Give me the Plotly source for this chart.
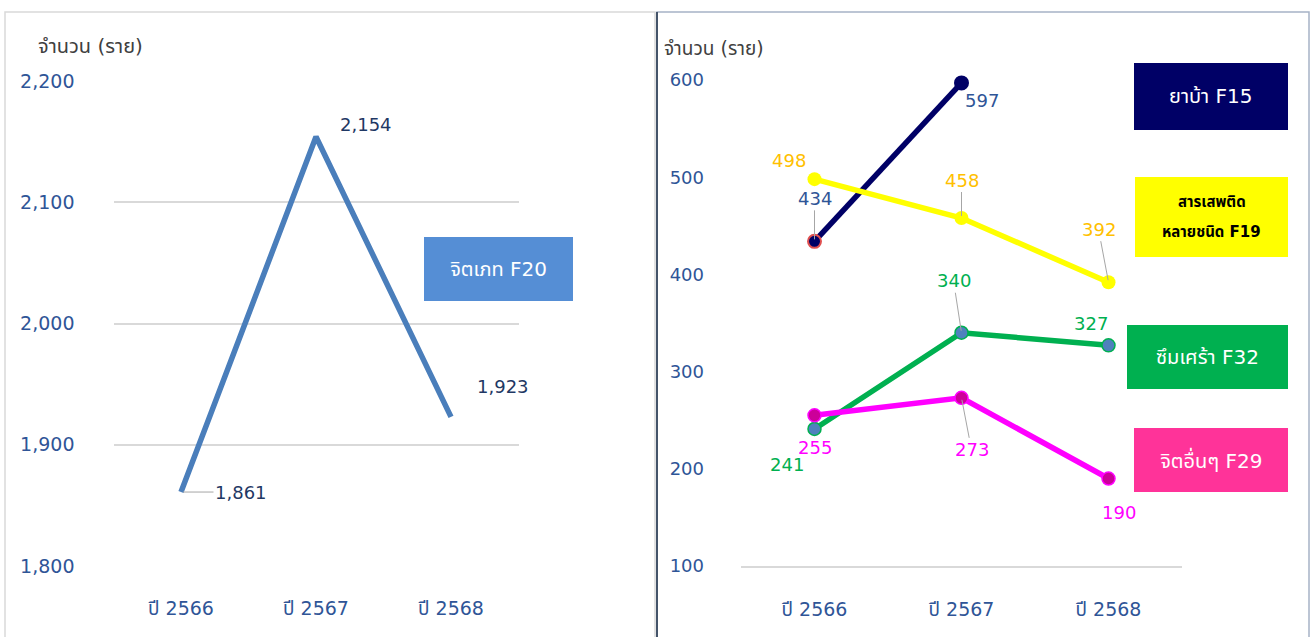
import plotly.graph_objects as go

W, H = 1314, 637

# ---------------- data ----------------
years = ["ปี 2566", "ปี 2567", "ปี 2568"]

f20_values = [1861, 2154, 1923]

f15_values = [434, 597, None]
f19_values = [498, 458, 392]
f32_values = [241, 340, 327]
f29_values = [255, 273, 190]

left_ticks = [1800, 1900, 2000, 2100, 2200]
right_ticks = [100, 200, 300, 400, 500, 600]

FONT = "'DejaVu Sans', Tahoma, 'Noto Sans Thai', sans-serif"
TICK_COLOR = "#2f5597"

def px(x):
    return x / W

def py(y):
    return 1 - y / H

fig = go.Figure()

# ---------------- left chart ----------------
fig.add_trace(go.Scatter(
    x=years, y=f20_values, mode="lines",
    line=dict(color="#4a7ebb", width=5.5),
    xaxis="x", yaxis="y", showlegend=False, hoverinfo="skip", cliponaxis=False))

# ---------------- right chart ----------------
fig.add_trace(go.Scatter(
    x=years, y=f15_values, mode="lines+markers",
    line=dict(color="#000066", width=5.5),
    marker=dict(size=13, color="#000066", line=dict(color=["#e05050", "#000066", "#000066"], width=2)),
    xaxis="x2", yaxis="y2", showlegend=False, hoverinfo="skip", cliponaxis=False))
fig.add_trace(go.Scatter(
    x=years, y=f19_values, mode="lines+markers",
    line=dict(color="#ffff00", width=5.5),
    marker=dict(size=14, color="#ffff00"),
    xaxis="x2", yaxis="y2", showlegend=False, hoverinfo="skip", cliponaxis=False))
fig.add_trace(go.Scatter(
    x=years, y=f32_values, mode="lines+markers",
    line=dict(color="#00b050", width=5.5),
    marker=dict(size=13, color="#4f81bd", line=dict(color="#00b050", width=1.5)),
    xaxis="x2", yaxis="y2", showlegend=False, hoverinfo="skip", cliponaxis=False))
fig.add_trace(go.Scatter(
    x=years, y=f29_values, mode="lines+markers",
    line=dict(color="#ff00ff", width=5.5),
    marker=dict(size=13, color="#cc0099", line=dict(color="#ff00ff", width=1.5)),
    xaxis="x2", yaxis="y2", showlegend=False, hoverinfo="skip", cliponaxis=False))

annotations = []

def label(xref, yref, x, y, text, color, ax, ay, leader=False, size=18):
    annotations.append(dict(
        xref=xref, yref=yref, x=x, y=y, text=text,
        showarrow=True, ax=ax, ay=ay,
        arrowhead=0, arrowwidth=1,
        arrowcolor="#a6a6a6" if leader else "rgba(0,0,0,0)",
        standoff=2,
        font=dict(family=FONT, size=size, color=color)))

def fmt(v):
    return f"{v:,}"

# left labels
left_offsets = [(60, 0, True), (50, -12, False), (52, -30, False)]
for i, v in enumerate(f20_values):
    ox, oy, ld = left_offsets[i]
    label("x", "y", years[i], v, fmt(v), "#1f3864", ox, oy, ld)

# right labels
f15_off = [(0, -43, True), (20, 18, False), None]
f19_off = [(-26, -19, False), (0, -38, True), (-10, -53, True)]
f32_off = [(-28, 36, False), (-8, -52, True), (-18, -22, False)]
f29_off = [(0, 32, False), (10, 52, True), (10, 34, False)]
series = [
    (f15_values, f15_off, "#2f5597"),
    (f19_values, f19_off, "#ffc000"),
    (f32_values, f32_off, "#00b050"),
    (f29_values, f29_off, "#ff00ff"),
]
for vals, offs, col in series:
    for i, v in enumerate(vals):
        if v is None or offs[i] is None:
            continue
        ox, oy, ld = offs[i]
        label("x2", "y2", years[i], v, str(v), col, ox, oy, ld)

# axis titles
annotations.append(dict(xref="paper", yref="paper", x=px(36), y=py(46), xanchor="left", yanchor="middle",
                        text="จำนวน (ราย)", showarrow=False,
                        font=dict(family=FONT, size=20, color="#404040")))
annotations.append(dict(xref="paper", yref="paper", x=px(662), y=py(48), xanchor="left", yanchor="middle",
                        text="จำนวน (ราย)", showarrow=False,
                        font=dict(family=FONT, size=19, color="#404040")))

shapes = []

def legend_box(x0, y0, x1, y1, fill, lines, tcolor, size=20, bold=False):
    shapes.append(dict(type="rect", xref="paper", yref="paper",
                       x0=px(x0), x1=px(x1), y0=py(y1), y1=py(y0),
                       fillcolor=fill, line=dict(width=0), layer="below"))
    n = len(lines)
    gap = 29
    for k, t in enumerate(lines):
        yc = (y0 + y1) / 2 + (k - (n - 1) / 2) * gap
        annotations.append(dict(xref="paper", yref="paper", x=px((x0 + x1) / 2), y=py(yc),
                                xanchor="center", yanchor="middle",
                                text=f"<b>{t}</b>" if bold else t, showarrow=False,
                                font=dict(family=FONT, size=size, color=tcolor)))

legend_box(424, 237, 573, 301, "#558ed5", ["จิตเภท F20"], "white")
legend_box(1134, 63, 1288, 130, "#000066", ["ยาบ้า F15"], "white")
legend_box(1135, 177, 1288, 257, "#ffff00", ["สารเสพติด", "หลายชนิด F19"], "black", size=15, bold=True)
legend_box(1127, 325, 1288, 389, "#00b050", ["ซึมเศร้า F32"], "white")
legend_box(1134, 428, 1288, 492, "#ff3399", ["จิตอื่นๆ F29"], "white")

# panel borders
shapes.append(dict(type="rect", xref="paper", yref="paper",
                   x0=px(5), x1=px(655), y0=py(640), y1=py(12),
                   line=dict(color="#d9d9d9", width=1.5), layer="below"))
shapes.append(dict(type="rect", xref="paper", yref="paper",
                   x0=px(657), x1=px(1309), y0=py(640), y1=py(12),
                   line=dict(color="#a6b3c6", width=1.5), layer="below"))
shapes.append(dict(type="line", xref="paper", yref="paper",
                   x0=px(657), x1=px(657), y0=py(640), y1=py(12),
                   line=dict(color="#44546a", width=2), layer="below"))

tickfont = dict(family=FONT, size=19, color=TICK_COLOR)
tickfont_r = dict(family=FONT, size=18, color=TICK_COLOR)

fig.update_layout(
    template="none",
    width=W, height=H,
    margin=dict(l=0, r=0, t=0, b=0, pad=0),
    paper_bgcolor="white", plot_bgcolor="white",
    xaxis=dict(domain=[px(113.5), px(518.5)], type="category", range=[-0.5, 2.5],
               showgrid=False, showline=False, zeroline=False, ticks="", automargin=False,
               tickfont=tickfont, ticklabelstandoff=29, anchor="y"),
    yaxis=dict(domain=[py(566), py(81)], range=[1800, 2200], tickvals=left_ticks,
               tickformat=",", showgrid=True, gridcolor="#d9d9d9", gridwidth=2,
               zeroline=False, showline=False, ticks="", tickfont=tickfont, automargin=False,
               ticklabelstandoff=38, anchor="x"),
    xaxis2=dict(domain=[px(741), px(1182)], type="category", range=[-0.5, 2.5],
                showgrid=False, showline=True, linecolor="#d9d9d9", linewidth=2,
                zeroline=False, ticks="", tickfont=tickfont, ticklabelstandoff=25,
                automargin=False, anchor="y2"),
    yaxis2=dict(domain=[py(566), py(80)], range=[100, 600], tickvals=right_ticks,
                showgrid=False, zeroline=False, showline=False, ticks="", automargin=False,
                tickfont=tickfont_r, ticklabelstandoff=36, anchor="x2"),
    annotations=annotations,
    shapes=shapes,
)

fig.write_html("out.html")
